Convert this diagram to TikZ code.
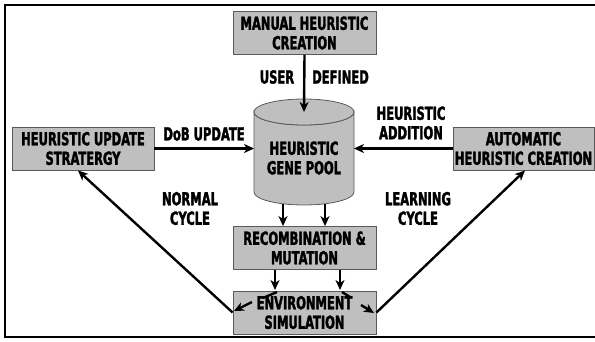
\documentclass[tikz,border=0pt]{standalone}
\usepackage{fontspec}
\setmainfont{DejaVu Sans Condensed Bold}[FakeStretch=0.71, FakeBold=1.8]
\usetikzlibrary{arrows.meta}
\begin{document}
\begin{tikzpicture}[x=1pt,y=-1pt,
  every node/.style={font=\fontsize{18}{19.5}\selectfont, align=center, inner sep=0pt},
  box/.style={draw=black!65, line width=0.8pt, fill=gray!50, minimum width=143pt, minimum height=43pt},
  conn/.style={line width=2.4pt, -{Stealth[length=10pt,width=9pt,inset=3pt]}},
  seg/.style={line width=2.4pt},
  lbl/.style={text=black}]
\useasboundingbox (0,0) rectangle (595,341);
\draw[line width=2.5pt] (595,5) -- (5,5) -- (5,337) -- (595,337);

% boxes
\node[box] (man) at (304.5,33) {MANUAL HEURISTIC\\CREATION};
\node[box, minimum width=142pt] (upd) at (83,148.5) {HEURISTIC UPDATE\\STRATERGY};
\node[box, minimum width=141pt] (auto) at (523.5,148.5) {AUTOMATIC\\HEURISTIC CREATION};
\node[box] (rec) at (304.5,248) {RECOMBINATION \&\\MUTATION};
\node[box] (env) at (304.5,312.5) {ENVIRONMENT\\SIMULATION};

% cylinder
\draw[draw=black!65, line width=0.8pt, fill=gray!50]
  (254,112) -- (254,192) arc[start angle=180, end angle=360, x radius=50, y radius=-13]
  -- (354,112) arc[start angle=0, end angle=180, x radius=50, y radius=13] -- cycle;
\draw[draw=black!65, line width=0.8pt, fill=gray!50] (304,112) ellipse[x radius=50, y radius=13];
\node (pool) at (304,158) {HEURISTIC\\GENE POOL};
\coordinate (ptop) at (304,112);
\coordinate (pleft) at (254,148.5);
\coordinate (pright) at (354,148.5);
\coordinate (pb1) at (283,204);
\coordinate (pb2) at (325,204);

% labels
\node[lbl] (user) at (277,77) {USER};
\node[lbl] (defined) at (340.5,77) {DEFINED};
\node[lbl] (dob) at (204,134) {DoB UPDATE};
\node[lbl] (hadd) at (411,123) {HEURISTIC\\ADDITION};
\node[lbl] (normal) at (190,208.5) {NORMAL\\CYCLE};
\node[lbl] (learn) at (418,208.5) {LEARNING\\CYCLE};

% connectors
\draw[conn] (man.south) -- (ptop);
\draw[conn] (upd.east) -- (pleft);
\draw[conn] (auto.west) -- (pright);
\draw[conn] (pb1) -- (pb1 |- rec.north);
\draw[conn] (pb2) -- (pb2 |- rec.north);
\coordinate (r1) at (275,269.5);
\coordinate (r2) at (340,269.5);
\draw[conn] (r1) -- (275,290);
\draw[conn] (r2) -- (340,290);
\coordinate (s1a) at (277,292);
\coordinate (s1b) at (263,298);
\coordinate (s2a) at (342,292);
\coordinate (s2b) at (350,297);
\draw[seg] (s1a) -- (s1b);
\draw[seg] (s2a) -- (s2b);
\coordinate (e1a) at (252,302);
\coordinate (e1b) at (234,311);
\coordinate (e2a) at (361,305);
\coordinate (e2b) at (374,313);
\draw[conn] (e1a) -- (e1b);
\draw[conn] (e2a) -- (e2b);
\draw[conn] (env.west) -- (78,170.5);
\draw[conn] (env.east) -- (525,170.5);
\end{tikzpicture}
\end{document}
